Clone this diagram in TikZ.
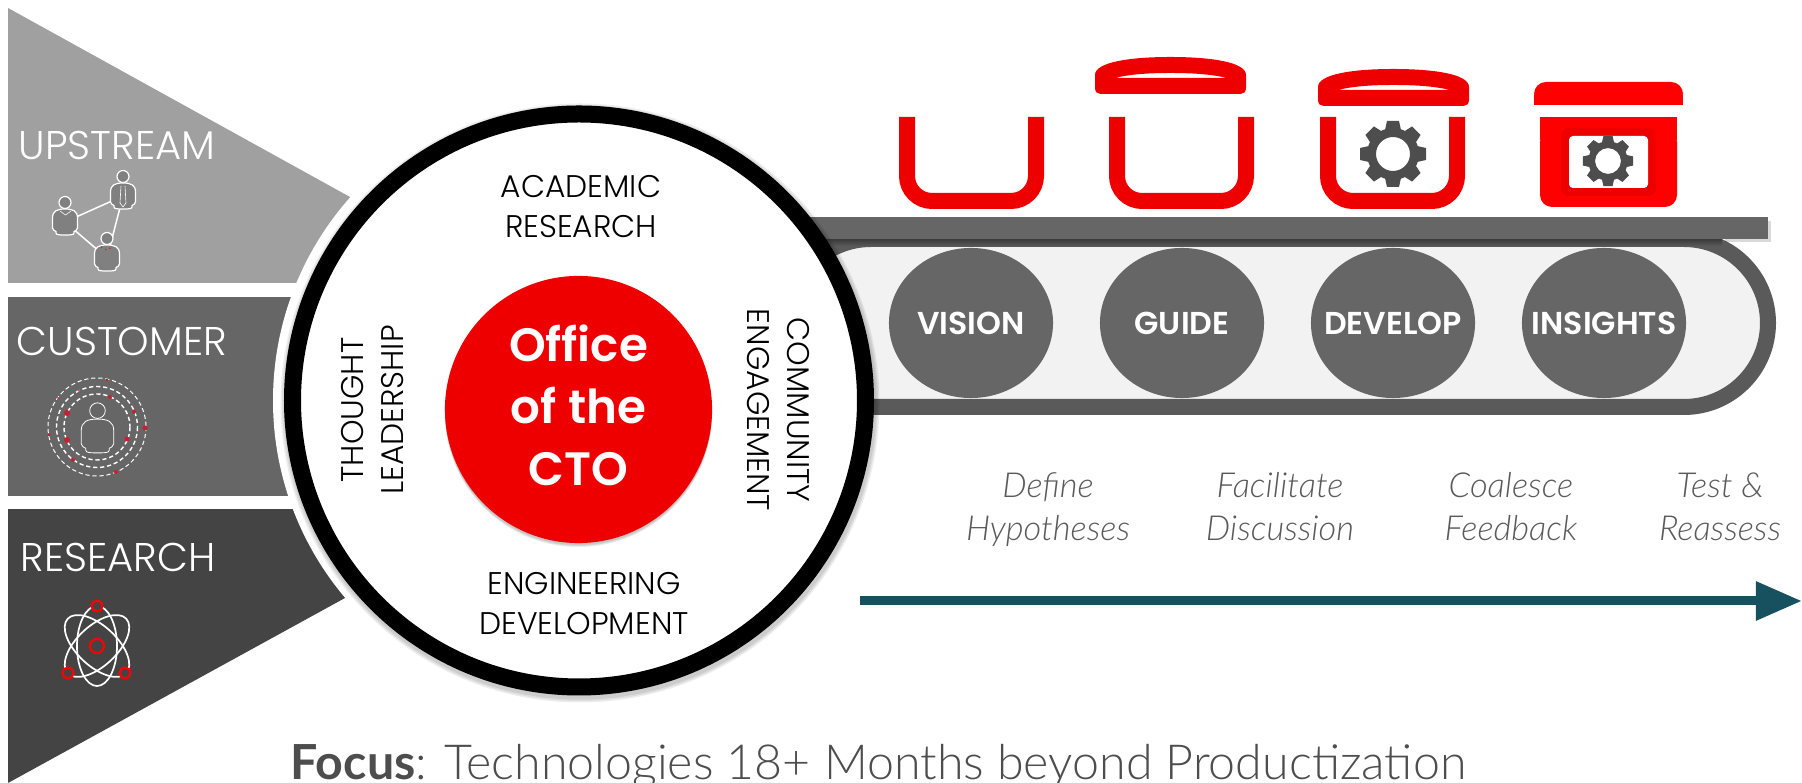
\documentclass[tikz,border=0pt]{standalone}
\usepackage{fontspec}
\usetikzlibrary{arrows.meta,shapes.geometric}
\setmainfont{Lato Light}
\newfontfamily\ringfont{Poppins Light}
\newfontfamily\boldfont{Poppins SemiBold}
\newfontfamily\focusfont{Lato}

\definecolor{hatred}{HTML}{EE0000}
\definecolor{purered}{HTML}{FF0000}
\definecolor{wedgelight}{HTML}{A0A0A0}
\definecolor{wedgemid}{HTML}{666666}
\definecolor{wedgedark}{HTML}{444444}
\definecolor{beltgray}{HTML}{5A5A5A}
\definecolor{beltfill}{HTML}{F2F2F2}
\definecolor{geargray}{HTML}{4D4D4D}
\definecolor{flowteal}{HTML}{17505F}
\definecolor{notegray}{HTML}{5A5A5A}
\definecolor{dotred}{HTML}{C8202F}

\tikzset{
  bandlabel/.style={anchor=base west, inner sep=0pt, text=white, font=\ringfont\fontsize{11.4}{13}\selectfont},
  ringlabel/.style={inner sep=0pt, align=center, text=black, font=\ringfont\fontsize{8.9}{11.38}\selectfont},
  stepdisc/.style={ellipse, fill=wedgemid, minimum width=1.64cm, minimum height=1.5cm, inner sep=0pt},
  stepword/.style={inner sep=0pt, text=white, font=\boldfont\fontsize{9}{10}\selectfont},
  capnote/.style={inner sep=0pt, align=center, text=notegray, font=\itshape\fontsize{9.8}{12.2}\selectfont},
  personicon/.pic={
    \draw[pic actions] (0,-19.5) circle (6);
    \draw[pic actions] (-12.5,6) -- (-12.5,-4) .. controls (-12.5,-11) and (-8,-13) .. (0,-13)
      .. controls (8,-13) and (12.5,-11) .. (12.5,-4) -- (12.5,6)
      .. controls (12.5,8) and (10,9) .. (9,9.5) -- (9,11)
      .. controls (9,13) and (5,13) .. (0,13) .. controls (-5,13) and (-9,13) .. (-9,11)
      -- (-9,9.5) .. controls (-10,9) and (-12.5,8) .. cycle;
  },
  gearicon/.pic={
    \foreach \a in {0,45,...,315}
      \fill[geargray, rotate=\a] (-8,-24) -- (-6,-33) -- (6,-33) -- (8,-24) -- cycle;
    \fill[geargray, even odd rule] (0,0) circle (26) (0,0) circle (17);
  },
  binicon/.pic={
    \draw[hatred, line width=.16cm, rounded corners=.25cm] (-64.5,0) -- (-64.5,84) -- (64.5,84) -- (64.5,0);
  },
  lidicon/.pic={
    \fill[hatred, even odd rule] (-75.5,18) .. controls (-75.5,5) and (-40,0) .. (0,0)
      .. controls (40,0) and (75.5,5) .. (75.5,18) -- (75.5,31)
      .. controls (75.5,35) and (73,37) .. (70,37) -- (-70,37)
      .. controls (-73,37) and (-75.5,35) .. (-75.5,31) -- cycle
      (-55.5,21) .. controls (-40,17) and (-20,16) .. (0,16)
      .. controls (20,16) and (40,17) .. (56.5,21) -- cycle;
  },
}

\begin{document}
\begin{tikzpicture}[x=0.01cm, y=-0.01cm]
    \useasboundingbox (0,0) rectangle (1802,783);

    % Wedges
    \fill[wedgelight] (8,8) -- (350,197) -- (320,300) -- (8,283) -- cycle;
    \fill[wedgemid] (8,297) -- (320,297) -- (320,496) -- (8,496) -- cycle;
    \fill[wedgedark] (8,509) -- (320,509) -- (345,598) -- (8,783) -- cycle;
    \fill[white] (8,283) rectangle (330,297);
    \fill[white] (8,496) rectangle (330,509);
    \fill[white] (579,400.5) circle (306);

    % Belt
    \draw[beltgray, fill=beltfill, line width=.16cm, rounded corners=.84cm] (787,239) rectangle (1768,407);
    \fill[black, opacity=.15] (1768,221) rectangle (1771,242);
    \fill[black, opacity=.15] (1725,239) rectangle (1768,242);
    \shade[top color=wedgedark!85!black, bottom color=beltgray] (800,239) rectangle (1722,246);
    \fill[wedgemid] (800,217) rectangle (1768,239);

    \node[stepdisc, label={[stepword]center:VISION}] (vision) at (971,323) {};
    \node[stepdisc, label={[stepword]center:GUIDE}] (guide) at (1182,323) {};
    \node[stepdisc, label={[stepword]center:DEVELOP}] (develop) at (1393,323) {};
    \node[stepdisc, label={[stepword]center:INSIGHTS}] (insights) at (1604,323) {};

    % Containers
    \pic at (971.5,117) {binicon};
    \pic at (1181.5,117) {binicon};
    \pic at (1392.5,117) {binicon};
    \pic at (1170.5,57) {lidicon};
    \pic at (1393.5,69) {lidicon};
    \pic at (1393,154) {gearicon};
    \fill[purered, rounded corners=.12cm] (1534,105) -- (1534,82) -- (1683,82) -- (1683,105) -- cycle;
    \fill[purered] (1534,95) rectangle (1683,105);
    \fill[purered, rounded corners=.12cm] (1540,130) -- (1540,207) -- (1677,207) -- (1677,130) -- cycle;
    \fill[purered] (1540,117) rectangle (1677,140);
    \fill[hatred, rounded corners=.08cm] (1561,128) rectangle (1656,196);
    \fill[white, rounded corners=.04cm] (1569,136) rectangle (1648,188);
    \pic[scale=.76] at (1608,161) {gearicon};

    % Main circle
    \foreach \s in {3,6,9}
      \fill[black, opacity=.07] (580,403) circle (295+\s/2);
    \draw[black, fill=white, line width=.17cm] (579,400.5) circle (286.5);
    \foreach \s in {2,4,6}
      \fill[black, opacity=.08] (578.5,410.5+\s/2) circle (133.5);
    \node[circle, fill=hatred, minimum size=2.67cm, inner sep=0pt] (office) at (578.5,409.5) {};
    \node[inner sep=0pt, align=center, text=white, font=\boldfont\fontsize{13.3}{17.64}\selectfont]
      (officetext) at (578.5,405) {Office\\of the\\CTO};

    \node[ringlabel] (academic) at (581,207) {ACADEMIC\\RESEARCH};
    \node[ringlabel] (engineering) at (584,604) {ENGINEERING\\DEVELOPMENT};
    \node[ringlabel, rotate=90] (thought) at (373,410) {THOUGHT\\LEADERSHIP};
    \node[ringlabel, rotate=-90] (community) at (778,410) {COMMUNITY\\ENGAGEMENT};

    % Wedge labels
    \node[bandlabel] (upstream) at (18,160) {UPSTREAM};
    \node[bandlabel] (customer) at (16,356) {CUSTOMER};
    \node[bandlabel] (research) at (20,572) {RESEARCH};

    % People
    \coordinate (lead) at (123,196);
    \coordinate (peer) at (65,222);
    \coordinate (maker) at (107,258);
    \draw[white, line width=.015cm] (peer) -- (lead) -- (maker) -- (peer);
    \pic[fill=gray, draw=white, line width=.012cm] at (lead) {personicon};
    \pic[fill=gray, draw=white, line width=.012cm] at (peer) {personicon};
    \pic[fill=gray, draw=white, line width=.012cm] at (maker) {personicon};
    \draw[white, line width=.006cm] (121,186) -- (120,203) -- (123,207) -- (126,203) -- (125,186);
    \draw[white, line width=.006cm] (60,211) -- (65.5,215) -- (71,211);
    \draw[dotred, line width=.012cm, densely dotted] (101,247) -- (107,250) -- (112,247);

    % Customer rings
    \foreach \r/\w in {33/.014,40.5/.014,49/.01}
      \draw[white, line width=\w cm, dash pattern=on 1.2pt off .8pt] (97,427) circle (\r);
    \foreach \x/\y/\r in {67/413/3,67/440/3,110/397/2,134/412/2,145/428/2.5,127/439/2.5,73/460/2,116/472/2,49/435/1.5,107/380/1.5,79/391/1,58/398/1}
      \fill[dotred] (\x,\y) circle (\r);
    \pic[draw=white, line width=.008cm, scale=1.3] at (97.5,436) {personicon};

    % Atom
    \draw[white, line width=.017cm] (97,646) ellipse (20 and 40);
    \draw[white, line width=.017cm, rotate around={47:(97,646)}] (97,646) ellipse (20 and 40);
    \draw[white, line width=.017cm, rotate around={-47:(97,646)}] (97,646) ellipse (20 and 40);
    \foreach \x/\y/\r in {97/646/7,97/606/5.5,68/673/5.5,125/673/5.5}
      \draw[purered, line width=.022cm, fill=wedgedark] (\x,\y) circle (\r);

    % Notes under the belt
    \node[capnote] (define) at (1048,510) {Define\strut\\Hypotheses\strut};
    \node[capnote] (facilitate) at (1280,510) {Facilitate\strut\\Discussion\strut};
    \node[capnote] (coalesce) at (1511,510) {Coalesce\strut\\Feedback\strut};
    \node[capnote] (retest) at (1720,510) {Test \&\strut\\Reassess\strut};

    % Time arrow
    \coordinate (flowstart) at (860,601);
    \coordinate (flowend) at (1802,601);
    \draw[flowteal, line width=.09cm, -{Triangle[length=.46cm, width=.37cm]}] (flowstart) -- (flowend);

    \node[anchor=base west, inner sep=0pt, text=geargray, font=\fontsize{13.75}{15}\selectfont] (focus) at (290,780)
      {{\focusfont\bfseries Focus}: Technologies 18+ Months beyond Productization};
\end{tikzpicture}
\end{document}
